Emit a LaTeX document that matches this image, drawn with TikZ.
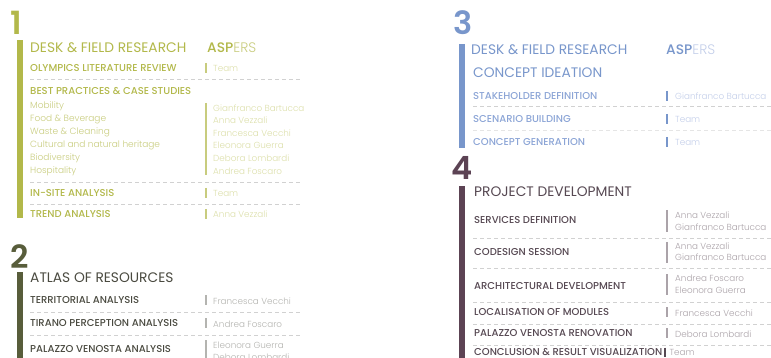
\documentclass[tikz,border=0pt]{standalone}
\usepackage{fontspec}
\usetikzlibrary{positioning}
\setmainfont{Poppins}
\newfontfamily\lightfont{Poppins}[UprightFont=* Light]
\newfontfamily\mediumfont{Poppins}[UprightFont=* Medium]
\newfontfamily\semifont{Poppins}[UprightFont=* SemiBold]
\definecolor{oliveA}{HTML}{B2B84A}
\definecolor{oliveAsub}{HTML}{C8CC7E}
\definecolor{oliveAl}{HTML}{DCDFAA}
\definecolor{oliveB}{HTML}{585D3B}
\definecolor{greyB}{HTML}{4A4A40}
\definecolor{greyBl}{HTML}{B4B4B0}
\definecolor{blueC}{HTML}{7896CB}
\definecolor{blueCsub}{HTML}{8CA5D6}
\definecolor{blueCl}{HTML}{C3CEE9}
\definecolor{plumD}{HTML}{5C4354}
\definecolor{plumDtext}{HTML}{564852}
\definecolor{plumDl}{HTML}{ABA3A9}
\tikzset{
  bignum/.style={anchor=base west,inner sep=0pt,font=\semifont\fontsize{32}{32}\selectfont},
  head/.style={anchor=base west,inner sep=0pt,font=\fontsize{13.8}{14}\selectfont},
  item/.style={anchor=base west,inner sep=0pt,font=\mediumfont\fontsize{10}{11}\selectfont},
  sub/.style={anchor=base west,inner sep=0pt,font=\lightfont\fontsize{9}{10}\selectfont},
  names/.style={anchor=base west,inner sep=0pt,font=\lightfont\fontsize{8.8}{10}\selectfont},
  sep/.style={draw=black!18,dash pattern=on 4pt off 3pt,line width=0.5pt},
  tick/.style={line width=1.2pt},
}
\begin{document}
\begin{tikzpicture}[x=1pt,y=-1pt]
	\useasboundingbox (0,0) rectangle (771,358);
	% 1 -- desk & field research
	\node[bignum,oliveA] (one) at (10,35) {1};
	\fill[oliveA] (17,40) rectangle (23,218);
	\node[head,oliveA] (desk1) at (30,53) {DESK \& FIELD RESEARCH};
	\node[head] (aspers1) at (207,53) {\textcolor{oliveA}{\mediumfont ASP}\textcolor{oliveAsub}{\lightfont ERS}};
	\node[item,oliveA] (olympics) at (30,71.5) {OLYMPICS LITERATURE REVIEW};
	\draw[tick,oliveAsub] (206,63) -- (206,73);
	\node[names,oliveAl] (olympicsteam) at (213,72) {Team};
	\draw[sep] (30,79) -- (300,79);
	\node[item,oliveA] (bestpractices) at (30,94.5) {BEST PRACTICES \& CASE STUDIES};
	\foreach \txt [count=\i] in {Mobility,Food \& Beverage,Waste \& Cleaning,Cultural and natural heritage,Biodiversity,Hospitality}
		\node[sub,oliveAsub] (case\i) at (30,96+13*\i) {\txt};
	\draw[tick,oliveAsub] (206,103) -- (206,175);
	\foreach \txt [count=\i] in {Gianfranco Bartucca,Anna Vezzali,Francesca Vecchi,Eleonora Guerra,Debora Lombardi,Andrea Foscaro}
		\node[names,oliveAl] (casename\i) at (213,98.5+12.6*\i) {\txt};
	\draw[sep] (30,182) -- (300,182);
	\node[item,oliveA] (insite) at (30,196.5) {IN-SITE ANALYSIS};
	\draw[tick,oliveAsub] (206,188) -- (206,198);
	\node[names,oliveAl] (insiteteam) at (213,197) {Team};
	\draw[sep] (30,204) -- (300,204);
	\node[item,oliveA] (trend) at (30,217.5) {TREND ANALYSIS};
	\draw[tick,oliveAsub] (206,209) -- (206,219);
	\node[names,oliveAl] (trendname) at (213,218) {Anna Vezzali};
	% 2 -- atlas of resources
	\node[bignum,oliveB] (two) at (10,268) {2};
	\fill[oliveB] (17,272) rectangle (23,358);
	\node[head,greyB] (atlas) at (30,282) {ATLAS OF RESOURCES};
	\node[item,greyB] (territorial) at (30,303.5) {TERRITORIAL ANALYSIS};
	\draw[tick,greyBl] (206,295) -- (206,305);
	\node[names,greyBl] (territorialname) at (213,304) {Francesca Vecchi};
	\draw[sep] (30,312) -- (300,312);
	\node[item,greyB] (tirano) at (30,326.5) {TIRANO PERCEPTION ANALYSIS};
	\draw[tick,greyBl] (206,318) -- (206,328);
	\node[names,greyBl] (tiranoname) at (213,327) {Andrea Foscaro};
	\draw[sep] (30,335) -- (300,335);
	\node[item,greyB] (venosta) at (30,352.5) {PALAZZO VENOSTA ANALYSIS};
	\draw[tick,greyBl] (206,340) -- (206,362);
	\node[names,greyBl] (venostaname1) at (213,348.5) {Eleonora Guerra};
	\node[names,greyBl] (venostaname2) at (213,360) {Debora Lombardi};
	% 3 -- concept ideation
	\node[bignum,blueC] (three) at (453,35) {3};
	\fill[blueC] (459,44) rectangle (465,148);
	\node[head,blueC] (desk3) at (471,55) {DESK \& FIELD RESEARCH};
	\node[head] (aspers3) at (666,55) {\textcolor{blueC}{\mediumfont ASP}\textcolor{blueCl}{\lightfont ERS}};
	\node[head,blueC] (ideation) at (473,78) {CONCEPT IDEATION};
	\node[item,blueCsub] (stakeholder) at (473,99.5) {STAKEHOLDER DEFINITION};
	\draw[tick,blueC] (667,91) -- (667,101);
	\node[names,blueCl] (stakeholdername) at (675,100) {Gianfranco Bartucca};
	\draw[sep] (473,106) -- (771,106);
	\node[item,blueCsub] (scenario) at (473,122.5) {SCENARIO BUILDING};
	\draw[tick,blueC] (667,114) -- (667,124);
	\node[names,blueCl] (scenarioteam) at (675,123) {Team};
	\draw[sep,black!10] (473,130) -- (771,130);
	\node[item,blueCsub] (generation) at (473,145.5) {CONCEPT GENERATION};
	\draw[tick,blueC] (667,137) -- (667,147);
	\node[names,blueCl] (generationteam) at (675,146) {Team};
	% 4 -- project development
	\node[bignum,plumD] (four) at (451,180) {4};
	\fill[plumD] (459,186) rectangle (465,358);
	\node[head,plumDtext] (project) at (474,197) {PROJECT DEVELOPMENT};
	\node[item,plumDtext] (services) at (474,223.5) {SERVICES DEFINITION};
	\draw[tick,plumDl] (667,210) -- (667,232);
	\node[names,plumDl] (servicesname1) at (675,218.5) {Anna Vezzali};
	\node[names,plumDl] (servicesname2) at (675,230) {Gianfranco Bartucca};
	\draw[sep] (473,238) -- (771,238);
	\node[item,plumDtext] (codesign) at (474,255.5) {CODESIGN SESSION};
	\draw[tick,plumDl] (667,242) -- (667,263);
	\node[names,plumDl] (codesignname1) at (675,249.5) {Anna Vezzali};
	\node[names,plumDl] (codesignname2) at (675,261) {Gianfranco Bartucca};
	\draw[sep] (473,268) -- (771,268);
	\node[item,plumDtext] (architectural) at (474,289.5) {ARCHITECTURAL DEVELOPMENT};
	\draw[tick,plumDl] (667,274) -- (667,295);
	\node[names,plumDl] (architecturalname1) at (675,281.5) {Andrea Foscaro};
	\node[names,plumDl] (architecturalname2) at (675,293) {Eleonora Guerra};
	\draw[sep] (473,302) -- (771,302);
	\node[item,plumDtext] (localisation) at (474,315.5) {LOCALISATION OF MODULES};
	\draw[tick,plumDl] (667,307) -- (667,317);
	\node[names,plumDl] (localisationname) at (675,316) {Francesca Vecchi};
	\draw[sep] (473,324) -- (771,324);
	\node[item,plumDtext] (renovation) at (474,336.5) {PALAZZO VENOSTA RENOVATION};
	\draw[tick,plumDl] (667,328) -- (667,338);
	\node[names,plumDl] (renovationname) at (675,337) {Debora Lombardi};
	\draw[sep] (473,345) -- (771,345);
	\node[item,plumDtext] (conclusion) at (474,355.5) {CONCLUSION \& RESULT VISUALIZATION};
	\draw[tick,plumDtext] ([xshift=2.5pt]conclusion.east |- 0,347.5) -- ([xshift=2.5pt]conclusion.east |- 0,357);
	\node[names,plumDl,right=7pt of conclusion.base east,anchor=base west] (conclusionteam) {Team};
\end{tikzpicture}
\end{document}
